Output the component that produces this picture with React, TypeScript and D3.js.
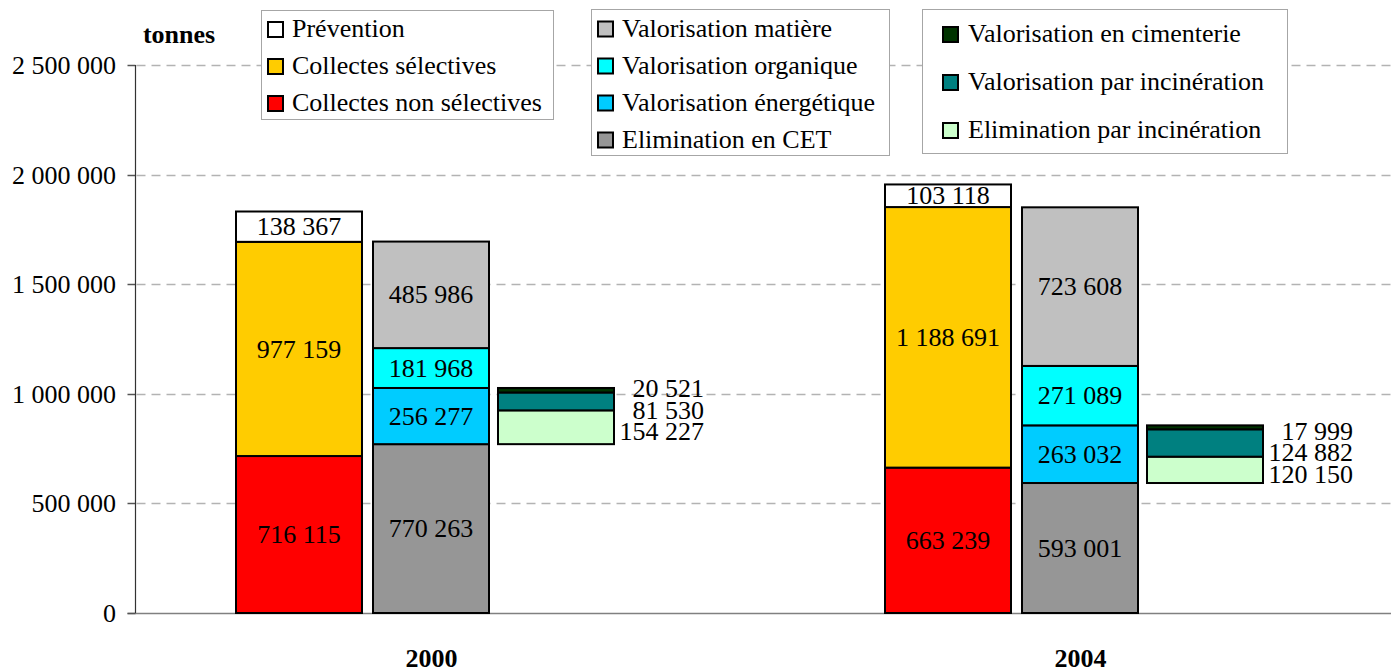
import React from 'react';
import * as d3 from 'd3';

// data (tonnes)
const years = ['2000', '2004'];
const prevention = [138367, 103118];
const collectesSelectives = [977159, 1188691];
const collectesNonSelectives = [716115, 663239];
const valorisationMatiere = [485986, 723608];
const valorisationOrganique = [181968, 271089];
const valorisationEnergetique = [256277, 263032];
const eliminationCET = [770263, 593001];
const valorisationCimenterie = [20521, 17999];
const valorisationIncineration = [81530, 124882];
const eliminationIncineration = [154227, 120150];
const yTickValues = [0, 500000, 1000000, 1500000, 2000000, 2500000];

const legend1 = ['Prévention', 'Collectes sélectives', 'Collectes non sélectives'];
const legend2 = ['Valorisation matière', 'Valorisation organique', 'Valorisation énergétique', 'Elimination en CET'];
const legend3 = ['Valorisation en cimenterie', 'Valorisation par incinération', 'Elimination par incinération'];

const colors: Record<string, string> = {
  'Prévention': '#FFFFFF',
  'Collectes sélectives': '#FFCC00',
  'Collectes non sélectives': '#FF0000',
  'Valorisation matière': '#C0C0C0',
  'Valorisation organique': '#00FFFF',
  'Valorisation énergétique': '#00CCFF',
  'Elimination en CET': '#969696',
  'Valorisation en cimenterie': '#003300',
  'Valorisation par incinération': '#008080',
  'Elimination par incinération': '#CCFFCC',
};

const W = 1391;
const H = 672;
const FONT = '"Liberation Serif", "Times New Roman", serif';
const FS = 26;

const fr = d3.formatLocale({ decimal: ',', thousands: '\u00a0', grouping: [3], currency: ['', ''] });
const fmt = fr.format(',');

// each stack: bottom-up segments, offset/width relative to the year's centre
const stacks = [
  {
    offset: -199, width: 126, base: () => 0, inside: true,
    series: [
      { name: 'Collectes non sélectives', values: collectesNonSelectives },
      { name: 'Collectes sélectives', values: collectesSelectives },
      { name: 'Prévention', values: prevention },
    ],
  },
  {
    offset: -62, width: 116, base: () => 0, inside: true,
    series: [
      { name: 'Elimination en CET', values: eliminationCET },
      { name: 'Valorisation énergétique', values: valorisationEnergetique },
      { name: 'Valorisation organique', values: valorisationOrganique },
      { name: 'Valorisation matière', values: valorisationMatiere },
    ],
  },
  {
    // floats on top of the landfill share
    offset: 63, width: 116, base: (i: number) => eliminationCET[i], inside: false,
    series: [
      { name: 'Elimination par incinération', values: eliminationIncineration },
      { name: 'Valorisation par incinération', values: valorisationIncineration },
      { name: 'Valorisation en cimenterie', values: valorisationCimenterie },
    ],
  },
];

const Legend = ({ x, y, w, h, items, rowStart, rowStep, squareX, textX }: any) => (
  <g>
    <rect x={x + 0.5} y={y + 0.5} width={w} height={h} fill="#fff" stroke="#a6a6a6" strokeWidth={1} />
    {items.map((name: string, i: number) => {
      const cy = y + rowStart + i * rowStep;
      return (
        <g key={name}>
          <rect x={x + squareX} y={cy - 7} width={15} height={15} fill={colors[name]} stroke="#000" strokeWidth={2} />
          <text x={x + textX} y={cy + 8} fontSize={FS} fontFamily={FONT}>{name}</text>
        </g>
      );
    })}
  </g>
);

export default function App() {
  const x = d3.scalePoint().domain(years).range([435, 1084]);
  const y = d3.scaleLinear().domain([0, 2500000]).range([613, 65]);
  const axisX = 135.5;

  return (
    <svg width={W} height={H} style={{ position: 'absolute', left: 0, top: 0, background: '#fff' }}>
      {/* grid lines */}
      {yTickValues.map((v) => (
        <g key={v}>
          <line
            x1={v === 0 ? axisX - 8 : axisX + 1}
            x2={W}
            y1={Math.round(y(v)) + 0.5}
            y2={Math.round(y(v)) + 0.5}
            stroke={v === 0 ? '#808080' : '#b3b3b3'}
            strokeWidth={1.5}
            strokeDasharray={v === 0 ? undefined : '9,6'}
          />
          <line x1={axisX - 8} x2={axisX} y1={Math.round(y(v)) + 0.5} y2={Math.round(y(v)) + 0.5} stroke="#555" strokeWidth={1.5} />
          <text x={116} y={y(v) + 9} textAnchor="end" fontSize={FS} fontFamily={FONT}>{fmt(v)}</text>
        </g>
      ))}
      <line x1={axisX} x2={axisX} y1={y(2500000)} y2={y(0)} stroke="#333" strokeWidth={1.2} />
      <text x={179} y={43} textAnchor="middle" fontSize={FS} fontWeight="bold" fontFamily={FONT}>tonnes</text>

      {/* stacked bars */}
      {years.map((yr, i) => {
        const cx = x(yr) as number;
        return (
          <g key={yr}>
            {stacks.map((st, si) => {
              let acc = st.base(i);
              const segs = st.series.map((s) => {
                const y0 = acc;
                acc += s.values[i];
                return { name: s.name, value: s.values[i], y0, y1: acc };
              });
              const left = cx + st.offset;
              // outside labels for the floating stack: stacked upwards from the bottom one
              const bottomMid = (y(segs[0].y0) + y(segs[0].y1)) / 2 + 4.5;
              return (
                <g key={si}>
                  {segs.map((sg) => (
                    <rect
                      key={sg.name}
                      x={left}
                      y={y(sg.y1)}
                      width={st.width}
                      height={y(sg.y0) - y(sg.y1)}
                      fill={colors[sg.name]}
                      stroke="#000"
                      strokeWidth={2}
                    />
                  ))}
                  {segs.map((sg, k) => {
                    if (st.inside) {
                      const my = (y(sg.y0) + y(sg.y1)) / 2;
                      return (
                        <text key={'t' + sg.name} x={left + st.width / 2} y={my + 8.6} textAnchor="middle" fontSize={FS} fontFamily={FONT}>
                          {fmt(sg.value)}
                        </text>
                      );
                    }
                    const my = bottomMid - k * 21.5;
                    return (
                      <text key={'t' + sg.name} x={left + st.width + 90} y={my + 8.6} textAnchor="end" fontSize={FS} fontFamily={FONT}>
                        {fmt(sg.value)}
                      </text>
                    );
                  })}
                </g>
              );
            })}
            <text x={cx - 3.5} y={667} textAnchor="middle" fontSize={FS} fontWeight="bold" fontFamily={FONT}>{yr}</text>
          </g>
        );
      })}

      {/* legends */}
      <Legend x={261} y={10} w={292} h={109} items={legend1} rowStart={19} rowStep={37} squareX={7} textX={31} />
      <Legend x={591} y={9} w={298} h={146} items={legend2} rowStart={19.5} rowStep={37} squareX={7} textX={31} />
      <Legend x={922} y={9} w={365} h={144} items={legend3} rowStart={25} rowStep={48} squareX={21} textX={46} />
    </svg>
  );
}
